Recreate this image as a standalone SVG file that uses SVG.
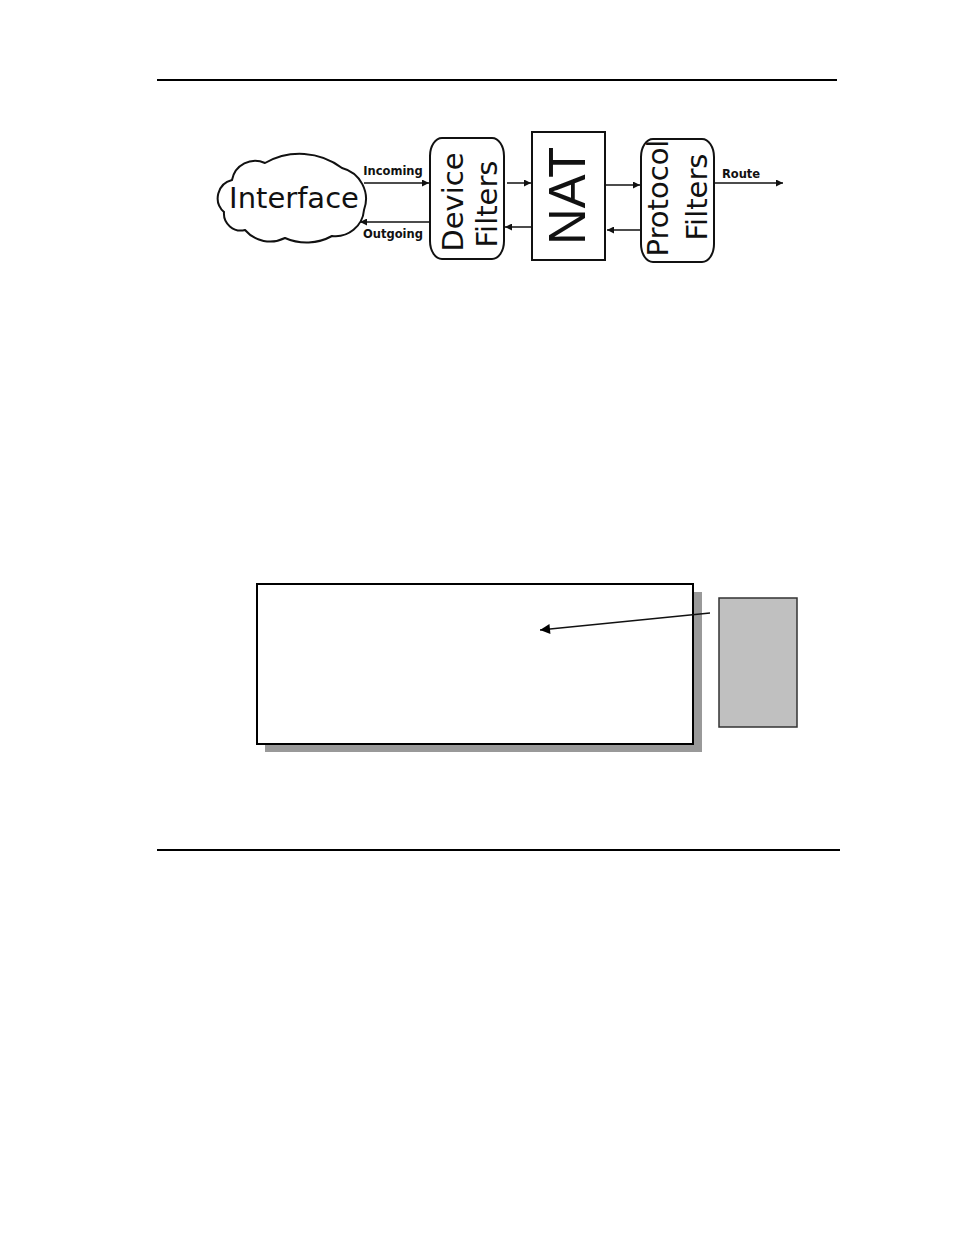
<svg xmlns="http://www.w3.org/2000/svg" width="954" height="1235" viewBox="0 0 954 1235">
<defs>
<marker id="ah" viewBox="0 0 10 10" refX="10" refY="5" markerWidth="8" markerHeight="7" markerUnits="userSpaceOnUse" orient="auto">
<path d="M0,0 L10,5 L0,10 Z" fill="#111"/>
</marker>
<marker id="ah2" viewBox="0 0 10 10" refX="10" refY="5" markerWidth="14" markerHeight="10" markerUnits="userSpaceOnUse" orient="auto">
<path d="M0,0 L10,5 L0,10 Z" fill="#000"/>
</marker>
<style>
.rule{stroke:#000;stroke-width:2}
.shape{fill:#fff;stroke:#111;stroke-width:2}
.big{font-family:"DejaVu Sans",Verdana,sans-serif;font-size:29px;fill:#111}
.nat{font-family:"Liberation Sans",Arial,sans-serif;font-size:52px;fill:#111}
.lbl{font-family:"DejaVu Sans",Verdana,sans-serif;font-size:11.5px;font-weight:bold;fill:#111}
.conn{stroke:#111;stroke-width:1.5;fill:none;marker-end:url(#ah)}
</style>
</defs>
<rect width="954" height="1235" fill="#fff"/>
<line class="rule" x1="157" y1="80" x2="837" y2="80"/>
<line class="rule" x1="157" y1="850" x2="840" y2="850"/>

<g id="interface">
<path class="shape" d="M224,212 A18.6,18.6 0 0 1 232,180 A23.5,23.5 0 0 1 265,163 A70,70 0 0 1 342,168 A32,32 0 0 1 364,210 A28.6,28.6 0 0 1 332,236 A53,53 0 0 1 285,238 A33,33 0 0 1 245,230 A17,17 0 0 1 224,212 Z"/>
<text class="big" x="294" y="208" text-anchor="middle" font-size="26.5">Interface</text>
</g>

<g id="device-filters">
<rect class="shape" x="430" y="138" width="74" height="121" rx="12" ry="18"/>
<text class="big" transform="translate(463,202) rotate(-90)" text-anchor="middle">Device</text>
<text class="big" transform="translate(497,204) rotate(-90)" text-anchor="middle">Filters</text>
</g>

<g id="nat">
<rect class="shape" x="532" y="132" width="73" height="128"/>
<text class="nat" transform="translate(585,196) rotate(-90)" text-anchor="middle" textLength="98" lengthAdjust="spacingAndGlyphs">NAT</text>
</g>

<g id="protocol-filters">
<rect class="shape" x="641" y="139" width="73" height="123" rx="12" ry="18"/>
<text class="big" transform="translate(668,198) rotate(-90)" text-anchor="middle">Protocol</text>
<text class="big" transform="translate(707,197) rotate(-90)" text-anchor="middle">Filters</text>
</g>

<g id="connectors">
<line class="conn" x1="364" y1="183" x2="429" y2="183"/>
<line class="conn" x1="429" y1="222" x2="360" y2="222"/>
<line class="conn" x1="507" y1="183" x2="531" y2="183"/>
<line class="conn" x1="531" y1="227" x2="505" y2="227"/>
<line class="conn" x1="606" y1="185" x2="640" y2="185"/>
<line class="conn" x1="640" y1="230" x2="607" y2="230"/>
<line class="conn" x1="715" y1="183" x2="783" y2="183"/>
<text class="lbl" x="393" y="175" text-anchor="middle">Incoming</text>
<text class="lbl" x="393" y="238" text-anchor="middle">Outgoing</text>
<text class="lbl" x="741" y="178" text-anchor="middle">Route</text>
</g>

<g id="panel">
<rect x="265" y="592" width="437" height="160" fill="#999"/>
<rect x="257" y="584" width="436" height="160" fill="#fff" stroke="#000" stroke-width="2"/>
</g>

<g id="side-box">
<rect x="719" y="598" width="78" height="129" fill="#c0c0c0" stroke="#333" stroke-width="1.5"/>
</g>

<g id="pointer">
<line x1="710" y1="613" x2="540" y2="630" stroke="#111" stroke-width="1.5" marker-end="url(#ah2)"/>
</g>
</svg>
